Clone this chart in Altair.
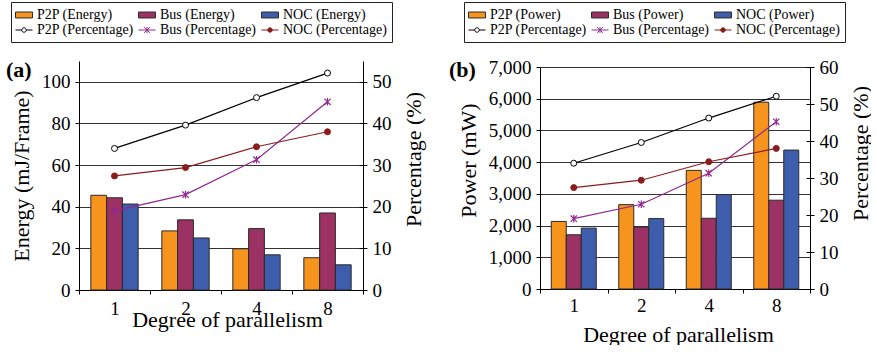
import altair as alt
import pandas as pd

categories = ["1", "2", "4", "8"]

energy_p2p = [45.5, 28.4, 19.8, 15.5]
energy_bus = [44.3, 33.7, 29.5, 37.0]
energy_noc = [41.3, 25.0, 16.9, 12.1]

power_p2p = [2130, 2660, 3740, 5890]
power_bus = [1710, 1950, 2230, 2800]
power_noc = [1920, 2220, 2980, 4380]

pct_p2p = [34.0, 39.6, 46.2, 52.1]
pct_bus = [19.0, 22.9, 31.3, 45.2]
pct_noc = [27.4, 29.4, 34.4, 38.0]

networks = ["P2P", "Bus", "NOC"]
pct_names = ["P2P (Percentage)", "Bus (Percentage)", "NOC (Percentage)"]

FONT = "Liberation Serif"
C_P2P = "#F7941E"
C_BUS = "#9B3263"
C_NOC = "#3E5EAD"
L_BUS = "#8E2A8E"
L_NOC = "#8B1C1C"

RECT = "M-1.2,-0.42H1.2V0.42H-1.2Z"
CIRC = "M0.32,0A0.32,0.32,0,1,1,-0.32,0A0.32,0.32,0,1,1,0.32,0Z"
SYM_P2P = "M-1.2,0H-0.32M0.32,0H1.2" + CIRC
SYM_BUS = "M-1.2,0H1.2M-0.4,-0.4L0.4,0.4M-0.4,0.4L0.4,-0.4M0,-0.45V0.45"
SYM_NOC = "M-1.2,0H1.2" + CIRC
STAR = "M-1,-1L1,1M-1,1L1,-1M0,-1.2V1.2"


def panel(tag, metric, left_title, bar_vals, left_domain, left_ticks, left_fmt,
          right_domain, right_ticks, w, h, y_range, legend_x, legend_y, tdx, tdy,
          x_label_pad, x_title_x, x_title_y, left_title_y, right_title_y):
    bar_names = [f"{n} ({metric})" for n in networks]
    domain = bar_names + pct_names
    fill_range = [C_P2P, C_BUS, C_NOC, "white", L_BUS, L_NOC]
    stroke_range = ["#2a2a2a", "#2a2a2a", "#2a2a2a", "black", L_BUS, L_NOC]
    shape_range = [RECT, RECT, RECT, SYM_P2P, SYM_BUS, SYM_NOC]

    bar_rows = []
    for name, vals in zip(bar_names, bar_vals):
        for c, v in zip(categories, vals):
            bar_rows.append({"deg": c, "series": name, "value": v})
    bar_df = pd.DataFrame(bar_rows)

    pct_rows = []
    for name, vals in zip(pct_names, [pct_p2p, pct_bus, pct_noc]):
        for c, v in zip(categories, vals):
            pct_rows.append({"deg": c, "series": name, "pct": v})
    pct_df = pd.DataFrame(pct_rows)

    xscale = alt.Scale(type="band", domain=categories, paddingInner=0, paddingOuter=0)
    fill_scale = alt.Scale(domain=domain, range=fill_range)
    stroke_scale = alt.Scale(domain=domain, range=stroke_range)
    shape_scale = alt.Scale(domain=domain, range=shape_range)
    rscale = alt.Scale(domain=right_domain, nice=False, range=y_range)
    lscale = alt.Scale(domain=left_domain, nice=False, range=y_range)

    x_axis = alt.Axis(title="Degree of parallelism", labelAngle=0, tickBand="extent",
                      tickSize=4, labelPadding=x_label_pad, titleX=x_title_x,
                      titleY=x_title_y, titleBaseline="alphabetic")
    xenc = alt.X("deg:N", scale=xscale, axis=x_axis)
    r_axis = alt.Axis(title="Percentage (%)", orient="right", values=right_ticks,
                      grid=False, tickSize=4, labelPadding=5, titlePadding=12,
                      titleAngle=270, titleBaseline="top", titleY=right_title_y)
    r_inner = alt.Axis(title=None, orient="right", values=right_ticks, grid=False,
                       tickSize=4, offset=-4, labels=False, domain=False)
    yr = alt.Y("pct:Q", scale=rscale, axis=r_axis)
    yr_none = alt.Y("pct:Q", scale=rscale, axis=None)

    l_axis_kw = dict(title=left_title, values=left_ticks, format=left_fmt,
                     grid=True, tickSize=4, labelPadding=5, titlePadding=8)
    if left_title_y is not None:
        l_axis_kw["titleY"] = left_title_y

    leg = alt.Legend(orient="none", legendX=legend_x, legendY=legend_y,
                     direction="horizontal", columns=3, title=None,
                     labelFont=FONT, labelFontSize=14, labelColor="black",
                     symbolSize=200, symbolStrokeWidth=1, symbolOpacity=1,
                     strokeColor="#222222", fillColor="white", padding=5,
                     rowPadding=0, columnPadding=2, labelOffset=5, labelLimit=300)

    bars = alt.Chart(bar_df).mark_bar(stroke="#2a2a2a", strokeWidth=1).encode(
        x=xenc,
        xOffset=alt.XOffset("series:N",
                            scale=alt.Scale(domain=bar_names, paddingInner=0, paddingOuter=0.75)),
        y=alt.Y("value:Q", scale=lscale, axis=alt.Axis(**l_axis_kw)),
        fill=alt.Fill("series:N", scale=fill_scale, legend=leg),
    )

    lines = alt.Chart(pct_df).mark_line(strokeWidth=1.2).encode(
        x=xenc, y=yr,
        stroke=alt.Stroke("series:N", scale=stroke_scale, legend=leg),
    )

    inner_ticks = alt.Chart(pct_df).mark_point(opacity=0).encode(
        x=xenc, y=alt.Y("pct:Q", scale=rscale, axis=r_inner),
    )

    def marker(name, **kw):
        return alt.Chart(pct_df).transform_filter(alt.datum.series == name).mark_point(
            opacity=1, **kw).encode(x=xenc, y=yr_none)

    m1 = marker("P2P (Percentage)", shape="circle", filled=True, fill="white",
                stroke="black", strokeWidth=1, size=36)
    m2 = marker("Bus (Percentage)", shape=STAR, filled=False, stroke=L_BUS,
                strokeWidth=1.2, size=40)
    m3 = marker("NOC (Percentage)", shape="circle", filled=True, fill=L_NOC,
                stroke=L_NOC, strokeWidth=1, size=36)

    hidden = alt.Chart(pct_df).mark_point(opacity=0, filled=True).encode(
        x=xenc, y=yr_none,
        fill=alt.Fill("series:N", scale=fill_scale, legend=leg),
        stroke=alt.Stroke("series:N", scale=stroke_scale, legend=leg),
        shape=alt.Shape("series:N", scale=shape_scale, legend=leg),
    )

    right = alt.layer(lines, inner_ticks, m1, m2, m3, hidden).resolve_axis(y="independent")
    ch = alt.layer(bars, right).resolve_scale(y="independent").properties(
        width=w, height=h,
        title=alt.TitleParams(tag, anchor="start", frame="group", orient="top",
                              fontSize=22, fontWeight="bold", font=FONT,
                              dx=tdx, dy=tdy, offset=0, baseline="alphabetic",
                              color="black"),
    )
    return ch


chart_a = panel("(a)", "Energy", "Energy (mJ/Frame)",
                [energy_p2p, energy_bus, energy_noc],
                [0, 110], [0, 20, 40, 60, 80, 100], "d",
                [0, 55], [0, 10, 20, 30, 40, 50],
                284, 229, [229, 0], -68, -59, -73, 97, 5, 148, 36, None, 98)

chart_b = panel("(b)", "Power", "Power (mW)",
                [power_p2p, power_bus, power_noc],
                [0, 7000], [0, 1000, 2000, 3000, 4000, 5000, 6000, 7000], ",.0f",
                [0, 60], [0, 10, 20, 30, 40, 50, 60],
                270, 228, [228, 6], -76, -59, -91, 97, 3, 138, 52, 99, 92)

chart = alt.hconcat(chart_a, chart_b, spacing=25).resolve_scale(
    xOffset="independent", fill="independent", stroke="independent", shape="independent"
).resolve_legend(
    fill="independent", stroke="independent", shape="independent"
).properties(
    padding={"left": 6, "top": 1, "right": 0, "bottom": 0}
).configure(font=FONT).configure_view(strokeWidth=0).configure_axis(
    labelFont=FONT, titleFont=FONT, labelFontSize=19, titleFontSize=22,
    labelColor="black", titleColor="black", titleFontWeight="normal",
    domainColor="black", tickColor="black", gridColor="#333333",
    gridWidth=1, domainWidth=1, tickWidth=1,
)

chart.save("out.html", embed_options={"renderer": "svg", "actions": False})
